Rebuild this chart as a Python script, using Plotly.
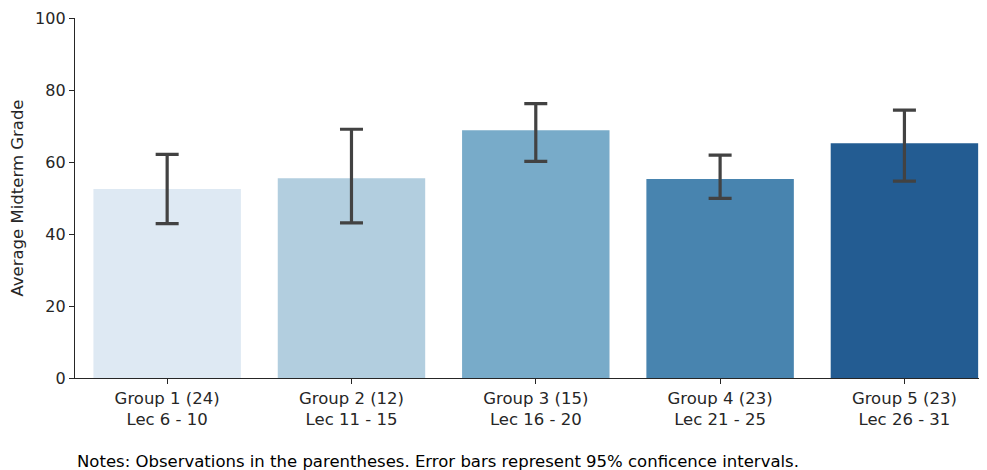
import plotly.graph_objects as go

groups = ["Group 1 (24)", "Group 2 (12)", "Group 3 (15)", "Group 4 (23)", "Group 5 (23)"]
lectures = ["Lec 6 - 10", "Lec 11 - 15", "Lec 16 - 20", "Lec 21 - 25", "Lec 26 - 31"]
means = [52.5, 55.5, 68.8, 55.3, 65.2]
ci_upper = [62.1, 69.1, 76.2, 61.9, 74.4]
ci_lower = [42.9, 43.1, 60.2, 49.9, 54.7]
colors = ["#dee9f3", "#b2cedf", "#78abc9", "#4884af", "#235c92"]

labels = [f"{g}<br>{l}" for g, l in zip(groups, lectures)]
x = list(range(len(groups)))
err_plus = [u - m for u, m in zip(ci_upper, means)]
err_minus = [m - lo for m, lo in zip(means, ci_lower)]

FONT = "DejaVu Sans"
TXT = "#262626"

fig = go.Figure()
fig.add_trace(go.Bar(
    x=x, y=means, width=0.8,
    marker=dict(color=colors, line=dict(width=0)),
    error_y=dict(type="data", symmetric=False, array=err_plus, arrayminus=err_minus,
                 color="#424242", thickness=3.2, width=11.5),
    showlegend=False,
))

fig.update_layout(
    width=979, height=462,
    margin=dict(l=67, r=0, t=10, b=92),
    paper_bgcolor="white", plot_bgcolor="white",
    font=dict(family=FONT, size=16, color=TXT),
    bargap=0.2,
    xaxis=dict(
        range=[-0.5, 4.448], tickmode="array", tickvals=x, ticktext=labels,
        showline=True, linecolor=TXT, linewidth=1.3,
        ticks="outside", ticklen=5, tickwidth=1.3, tickcolor=TXT,
        showgrid=False, zeroline=False, tickfont=dict(size=16.5),
    ),
    yaxis=dict(
        range=[0, 100], tickvals=[0, 20, 40, 60, 80, 100],
        showline=True, linecolor=TXT, linewidth=1.3,
        ticks="outside", ticklen=5, tickwidth=1.3, tickcolor=TXT,
        showgrid=False, zeroline=False, tickfont=dict(size=16),
        title=dict(text="Average Midterm Grade", standoff=10, font=dict(size=16.5)),
    ),
    annotations=[dict(
        text="Notes: Observations in the parentheses. Error bars represent 95% conficence intervals.",
        xref="paper", yref="paper", x=0, y=-0.233, xanchor="left", yanchor="middle",
        showarrow=False, font=dict(size=16.5, color="black"),
    )],
)

fig.write_html("out.html")
